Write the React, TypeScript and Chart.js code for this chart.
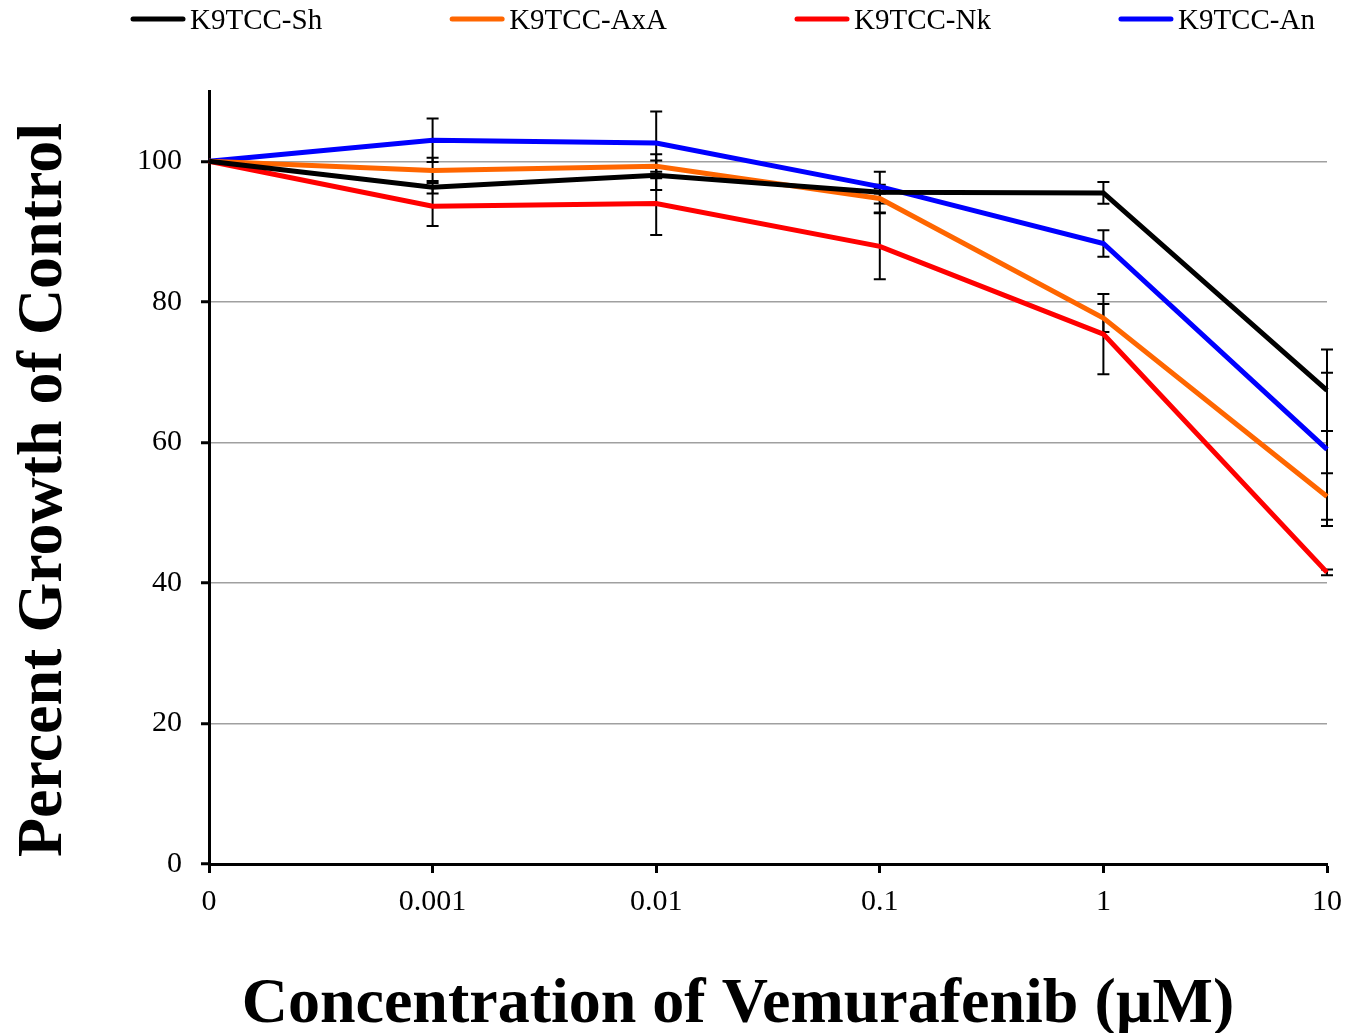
import React, { useEffect, useRef } from "react";
import { Chart, registerables } from "chart.js";

Chart.register(...registerables);

const categories = ["0", "0.001", "0.01", "0.1", "1", "10"];
const seriesNames = ["K9TCC-Sh", "K9TCC-AxA", "K9TCC-Nk", "K9TCC-An"];
const seriesColors = ["#000000", "#FF6600", "#FF0000", "#0000FF"];

const shValues = [100, 96.3, 98.0, 95.6, 95.5, 67.4];
const axaValues = [100, 98.7, 99.3, 94.7, 77.7, 52.3];
const nkValues = [100, 93.6, 94.0, 87.9, 75.4, 41.5];
const anValues = [100, 103.0, 102.6, 96.4, 88.3, 59.0];

const shErr = [0, 0.9, 2.1, 2.9, 1.55, 5.8];
const axaErr = [0, 1.8, 1.7, 0.7, 2.0, 3.3];
const nkErr = [0, 2.8, 4.5, 4.7, 5.7, 0.4];
const anErr = [0, 3.1, 4.5, 0.25, 1.9, 10.9];

const yTicks = [0, 20, 40, 60, 80, 100];

const xTitle = "Concentration of Vemurafenib (µM)";
const yTitle = "Percent Growth of Control";

const allValues = [shValues, axaValues, nkValues, anValues];
const allErrors = [shErr, axaErr, nkErr, anErr];

const SERIF = '"Liberation Serif", "Times New Roman", serif';

const errorBarPlugin = {
  id: "errorBars",
  beforeDatasetsDraw(chart: any) {
    const ctx = chart.ctx;
    const yScale = chart.scales.y;
    ctx.save();
    ctx.strokeStyle = "#000";
    ctx.lineWidth = 2;
    chart.data.datasets.forEach((ds: any, di: number) => {
      const meta = chart.getDatasetMeta(di);
      const errs = allErrors[di];
      meta.data.forEach((pt: any, i: number) => {
        const e = errs[i];
        if (!e) return;
        const v = ds.data[i];
        const x = pt.x;
        const yT = yScale.getPixelForValue(v + e);
        const yB = yScale.getPixelForValue(v - e);
        ctx.beginPath();
        ctx.moveTo(x, yT);
        ctx.lineTo(x, yB);
        ctx.moveTo(x - 6, yT);
        ctx.lineTo(x + 6, yT);
        ctx.moveTo(x - 6, yB);
        ctx.lineTo(x + 6, yB);
        ctx.stroke();
      });
    });
    ctx.restore();
  },
};

const decorPlugin = {
  id: "decor",
  afterDraw(chart: any) {
    const ctx = chart.ctx;
    ctx.save();
    // legend
    ctx.font = `29px ${SERIF}`;
    ctx.textAlign = "left";
    ctx.textBaseline = "alphabetic";
    let x = 123;
    const lineY = 11;
    seriesNames.forEach((name, i) => {
      ctx.strokeStyle = seriesColors[i];
      ctx.lineWidth = 5;
      ctx.lineCap = "round";
      ctx.beginPath();
      ctx.moveTo(x + 2, lineY);
      ctx.lineTo(x + 52, lineY);
      ctx.stroke();
      ctx.fillStyle = "#000";
      ctx.fillText(name, x + 59, 21);
      const w = ctx.measureText(name).width;
      x = x + 59 + w + 128;
    });
    // titles
    ctx.font = `bold 64px ${SERIF}`;
    ctx.fillStyle = "#000";
    ctx.textAlign = "center";
    ctx.textBaseline = "alphabetic";
    ctx.fillText(xTitle, 730, 1014);
    ctx.translate(53, 482);
    ctx.rotate(-Math.PI / 2);
    ctx.fillText(yTitle, 0, 0);
    ctx.restore();
  },
};

export default function App() {
  const ref = useRef<HTMLCanvasElement | null>(null);
  useEffect(() => {
    const prevMargin = document.body.style.margin;
    document.body.style.margin = "0";
    if (!ref.current) return;
    const chart = new Chart(ref.current, {
      type: "line",
      data: {
        labels: categories,
        datasets: seriesNames.map((name, i) => ({
          label: name,
          data: allValues[i],
          borderColor: seriesColors[i],
          backgroundColor: seriesColors[i],
          borderWidth: 5,
          pointRadius: 0,
          tension: 0,
          fill: false,
          borderJoinStyle: "miter" as const,
        })),
      },
      options: {
        responsive: false,
        animation: false,
        events: [],
        layout: { padding: { top: 83, right: 21, left: 0, bottom: 0 } },
        plugins: {
          legend: { display: false },
          tooltip: { enabled: false },
          title: { display: false },
        },
        scales: {
          x: {
            type: "category",
            offset: false,
            grid: {
              drawOnChartArea: false,
              drawTicks: true,
              tickLength: 9,
              tickColor: "#000",
              tickWidth: 3,
            },
            border: { display: true, color: "#000", width: 3 },
            ticks: {
              color: "#000",
              font: { family: SERIF, size: 30 },
              padding: 11,
              maxRotation: 0,
              autoSkip: false,
            },
            afterFit(scale: any) {
              scale.height = 169;
              scale.paddingLeft = 0;
              scale.paddingRight = 0;
            },
          },
          y: {
            type: "linear",
            min: 0,
            max: 110,
            afterBuildTicks(scale: any) {
              scale.ticks = yTicks.map((v) => ({ value: v }));
            },
            grid: {
              color: (c: any) => (c.tick && c.tick.value === 0 ? "rgba(0,0,0,0)" : "#A0A0A0"),
              lineWidth: 1.5,
              drawTicks: true,
              tickLength: 8,
              tickColor: "#000",
              tickWidth: 3,
            },
            border: { display: true, color: "#000", width: 3 },
            ticks: {
              color: "#000",
              font: { family: SERIF, size: 30 },
              padding: 19,
            },
            afterFit(scale: any) {
              scale.width = 201;
            },
          },
        },
      },
      plugins: [errorBarPlugin, decorPlugin],
    });
    return () => {
      chart.destroy();
      document.body.style.margin = prevMargin;
    };
  }, []);
  return (
    <div style={{ padding: "8px 0 0 8px", width: 1340, height: 1025 }}>
      <canvas ref={ref} width={1340} height={1025} style={{ display: "block" }} />
    </div>
  );
}
